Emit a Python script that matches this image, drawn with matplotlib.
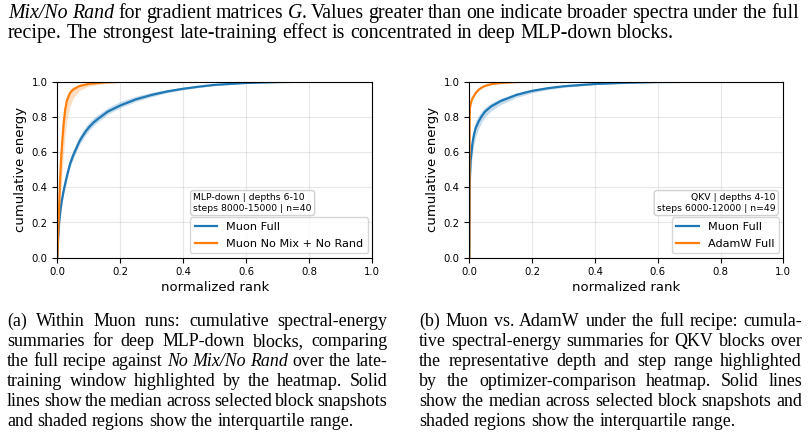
import matplotlib
matplotlib.use("Agg")
import matplotlib.pyplot as plt
import numpy as np

# ---------------- data ----------------
# Panel (a): MLP-down, Muon Full vs Muon No Mix + No Rand
rank_a_full = [0, 0.003, 0.006, 0.01, 0.015, 0.02, 0.03, 0.04, 0.05, 0.06, 0.07, 0.08, 0.09, 0.1,
               0.115, 0.13, 0.16, 0.2, 0.25, 0.3, 0.35, 0.4, 0.45, 0.5, 0.6, 0.7, 0.8, 1.0]
med_a_full = [0, 0.12, 0.2, 0.27, 0.33, 0.38, 0.46, 0.53, 0.58, 0.62, 0.66, 0.69, 0.717, 0.74,
              0.768, 0.79, 0.83, 0.865, 0.9, 0.925, 0.945, 0.96, 0.972, 0.982, 0.993, 0.998, 1.0, 1.0]
q25_a_full = [0, 0.10, 0.18, 0.25, 0.31, 0.36, 0.44, 0.51, 0.56, 0.60, 0.64, 0.67, 0.697, 0.72,
              0.75, 0.772, 0.815, 0.852, 0.888, 0.915, 0.937, 0.954, 0.967, 0.978, 0.991, 0.997, 1.0, 1.0]
q75_a_full = [0, 0.14, 0.22, 0.30, 0.36, 0.41, 0.49, 0.56, 0.61, 0.65, 0.69, 0.72, 0.745, 0.768,
              0.795, 0.815, 0.852, 0.888, 0.918, 0.94, 0.956, 0.968, 0.978, 0.986, 0.995, 0.999, 1.0, 1.0]

rank_a_nomix = [0, 0.003, 0.006, 0.009, 0.012, 0.015, 0.02, 0.025, 0.03, 0.04, 0.05, 0.07,
                0.1, 0.15, 0.2, 0.3, 1.0]
med_a_nomix = [0, 0.15, 0.3, 0.45, 0.56, 0.64, 0.76, 0.84, 0.89, 0.935, 0.955, 0.975,
               0.988, 0.996, 0.999, 1.0, 1.0]
q25_a_nomix = [0, 0.1, 0.2, 0.3, 0.4, 0.48, 0.6, 0.7, 0.78, 0.86, 0.905, 0.95,
               0.975, 0.99, 0.997, 1.0, 1.0]
q75_a_nomix = [0, 0.2, 0.38, 0.52, 0.63, 0.71, 0.81, 0.88, 0.92, 0.955, 0.97, 0.984,
               0.993, 0.998, 1.0, 1.0, 1.0]

# Panel (b): QKV, Muon Full vs AdamW Full
rank_b_muon = [0, 0.001, 0.002, 0.004, 0.007, 0.01, 0.015, 0.02, 0.03, 0.038, 0.05, 0.07,
               0.1, 0.15, 0.2, 0.25, 0.3, 0.4, 0.5, 0.6, 0.8, 1.0]
med_b_muon = [0, 0.35, 0.45, 0.55, 0.6, 0.65, 0.7, 0.735, 0.775, 0.8, 0.83, 0.86,
              0.89, 0.925, 0.948, 0.963, 0.974, 0.987, 0.994, 0.998, 1.0, 1.0]
q25_b_muon = [0, 0.3, 0.4, 0.49, 0.54, 0.59, 0.645, 0.685, 0.735, 0.765, 0.8, 0.835,
              0.87, 0.91, 0.937, 0.955, 0.968, 0.983, 0.992, 0.997, 1.0, 1.0]
q75_b_muon = [0, 0.4, 0.5, 0.6, 0.65, 0.7, 0.745, 0.775, 0.81, 0.83, 0.855, 0.88,
              0.905, 0.937, 0.956, 0.97, 0.979, 0.99, 0.996, 0.999, 1.0, 1.0]

rank_b_adam = [0, 0.001, 0.002, 0.005, 0.01, 0.02, 0.03, 0.04, 0.05, 0.07, 0.1, 0.15, 0.2, 1.0]
med_b_adam = [0, 0.8, 0.85, 0.88, 0.905, 0.935, 0.955, 0.967, 0.976, 0.986, 0.993, 0.998, 1.0, 1.0]
q25_b_adam = [0, 0.78, 0.835, 0.87, 0.897, 0.929, 0.95, 0.963, 0.973, 0.984, 0.992, 0.997, 1.0, 1.0]
q75_b_adam = [0, 0.82, 0.862, 0.89, 0.912, 0.94, 0.959, 0.97, 0.979, 0.988, 0.994, 0.998, 1.0, 1.0]

ticks = [0.0, 0.2, 0.4, 0.6, 0.8, 1.0]

panel_a_note = "MLP-down | depths 6-10\nsteps 8000-15000 | n=40"
panel_b_note = "QKV | depths 4-10\nsteps 6000-12000 | n=49"
labels_a = ["Muon Full", "Muon No Mix + No Rand"]
labels_b = ["Muon Full", "AdamW Full"]

# Text lines: '|' toggles italic; flag = justify
top_lines = [
    ("|Mix/No Rand| for gradient matrices |G|. Values greater than one indicate broader spectra under the full", True),
    ("recipe. The strongest late-training effect is concentrated in deep MLP-down blocks.", False),
]
cap_a_lines = [
    ("(a) Within Muon runs: cumulative spectral-energy", True),
    ("summaries for deep MLP-down blocks, comparing", True),
    ("the full recipe against |No Mix/No Rand| over the late-", True),
    ("training window highlighted by the heatmap. Solid", True),
    ("lines show the median across selected block snapshots", True),
    ("and shaded regions show the interquartile range.", False),
]
cap_b_lines = [
    ("(b) Muon vs. AdamW under the full recipe: cumula-", True),
    ("tive spectral-energy summaries for QKV blocks over", True),
    ("the representative depth and step range highlighted", True),
    ("by the optimizer-comparison heatmap. Solid lines", True),
    ("show the median across selected block snapshots and", True),
    ("shaded regions show the interquartile range.", False),
]

# ---------------- figure ----------------
W, H = 808, 436
fig = plt.figure(figsize=(W / 100, H / 100), dpi=100)
fig.patch.set_facecolor("white")

BLUE = "#1f77b4"
ORANGE = "#ff7f0e"


def make_axes(x0, x1, y0, y1):
    return fig.add_axes([x0 / W, 1 - y1 / H, (x1 - x0) / W, (y1 - y0) / H])


axA = make_axes(57.3, 372.3, 81.7, 257.7)
axB = make_axes(469.3, 783.3, 81.7, 257.7)


def style(ax):
    ax.set_xlim(0, 1)
    ax.set_ylim(0, 1)
    ax.set_xticks(ticks)
    ax.set_yticks(ticks)
    ax.tick_params(labelsize=7.3, length=3.5, width=0.8)
    ax.grid(True, color="#b0b0b0", alpha=0.3, lw=0.8)
    ax.set_axisbelow(True)
    ax.set_xlabel("normalized rank", fontsize=9.5, labelpad=2.5)
    ax.set_ylabel("cumulative energy", fontsize=9.5, labelpad=3)
    for s in ax.spines.values():
        s.set_linewidth(0.8)


BAND_ALPHA = 0.25
axA.fill_between(rank_a_full, q25_a_full, q75_a_full, color=BLUE, alpha=BAND_ALPHA, lw=0)
axA.plot(rank_a_full, med_a_full, color=BLUE, lw=1.6, label=labels_a[0])
axA.fill_between(rank_a_nomix, q25_a_nomix, q75_a_nomix, color=ORANGE, alpha=BAND_ALPHA, lw=0)
axA.plot(rank_a_nomix, med_a_nomix, color=ORANGE, lw=1.6, label=labels_a[1])
style(axA)
legA = axA.legend(loc="lower right", fontsize=8.1, borderaxespad=0.4, labelspacing=0.6)

axB.fill_between(rank_b_muon, q25_b_muon, q75_b_muon, color=BLUE, alpha=BAND_ALPHA, lw=0)
axB.plot(rank_b_muon, med_b_muon, color=BLUE, lw=1.6, label=labels_b[0])
axB.fill_between(rank_b_adam, q25_b_adam, q75_b_adam, color=ORANGE, alpha=BAND_ALPHA, lw=0)
axB.plot(rank_b_adam, med_b_adam, color=ORANGE, lw=1.6, label=labels_b[1])
style(axB)
legB = axB.legend(loc="lower right", fontsize=8.1, borderaxespad=0.4, labelspacing=0.6)

renderer = fig.canvas.get_renderer()
fig.canvas.draw()


def place_note(ax, leg, note, side):
    bb = leg.get_window_extent(renderer).transformed(ax.transAxes.inverted())
    pad_px = 3.2
    dx = pad_px / (ax.get_window_extent(renderer).width)
    dy = (pad_px + 1.5) / (ax.get_window_extent(renderer).height)
    if side == "left":
        x, ha = bb.x0 + dx, "left"
    else:
        x, ha = bb.x1 - dx, "right"
    ax.text(x, bb.y1 + dy, note, transform=ax.transAxes, fontsize=6.7,
            ha=ha, va="bottom", linespacing=1.2,
            bbox=dict(boxstyle="round,pad=0.3", facecolor="white", edgecolor="#cccccc", alpha=0.9))


place_note(axA, legA, panel_a_note, "left")
place_note(axB, legB, panel_b_note, "right")

# ---------------- justified serif text ----------------
SERIF = "Liberation Serif"


def parse_words(line):
    words = []
    parts = line.split("|")
    cur = []
    for i, p in enumerate(parts):
        italic = (i % 2 == 1)
        tokens = p.split(" ")
        for j, tok in enumerate(tokens):
            if j > 0:
                if cur:
                    words.append(cur)
                cur = []
            if tok:
                cur.append((tok, italic))
    if cur:
        words.append(cur)
    return words


def seg_width(txt, italic, fs):
    t = fig.text(0, 0, txt, family=SERIF, fontsize=fs, style="italic" if italic else "normal")
    w = t.get_window_extent(renderer).width
    t.remove()
    return w


def draw_line(line, justify, x0, x1, y, fs):
    words = parse_words(line)
    widths = [[seg_width(s, it, fs) for s, it in wd] for wd in words]
    totals = [sum(w) for w in widths]
    if justify and len(words) > 1:
        gap = (x1 - x0 - sum(totals)) / (len(words) - 1)
    else:
        gap = seg_width("a a", False, fs) - seg_width("aa", False, fs)
    x = x0
    for wd, ws in zip(words, widths):
        for (s, it), w in zip(wd, ws):
            fig.text(x / W, 1 - y / H, s, family=SERIF, fontsize=fs,
                     style="italic" if it else "normal", ha="left", va="baseline")
            x += w
        x += gap


FS_TOP = 14.3
FS_CAP = 12.9
for i, (ln, just) in enumerate(top_lines):
    draw_line(ln, just, 8, 799, 18 + 20 * i, FS_TOP)
for i, (ln, just) in enumerate(cap_a_lines):
    draw_line(ln, just, 7, 387.5, 325.7 + 20 * i, FS_CAP)
for i, (ln, just) in enumerate(cap_b_lines):
    draw_line(ln, just, 419.3, 802, 325.7 + 20 * i, FS_CAP)

fig.savefig("out.png", dpi=100)
